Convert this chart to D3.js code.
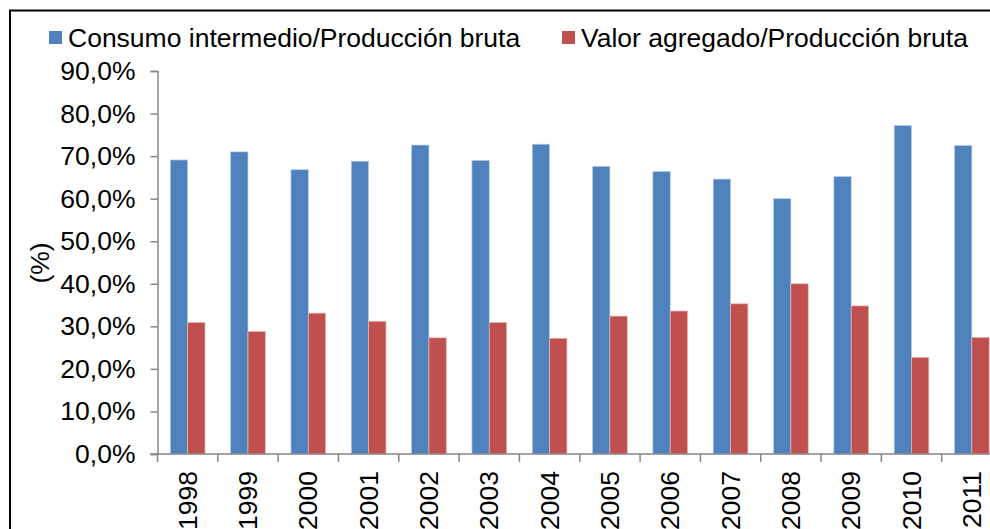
<!DOCTYPE html>
<html>
<head>
<meta charset="utf-8">
<script src="https://cdn.jsdelivr.net/npm/d3@7"></script>
<style>
  body { margin: 0; background: #fff; }
  svg { display: block; font-family: "Liberation Sans", Arial, sans-serif; }
</style>
</head>
<body>
<svg id="chart" width="990" height="529"></svg>
<script>
// données
var years = ["1998","1999","2000","2001","2002","2003","2004","2005","2006","2007","2008","2009","2010","2011"];
var consumo = [69.1, 71.0, 66.8, 68.8, 72.6, 69.0, 72.8, 67.6, 66.4, 64.6, 60.0, 65.2, 77.2, 72.5];
var valor = [30.9, 28.8, 33.1, 31.2, 27.3, 30.9, 27.2, 32.4, 33.6, 35.3, 40.0, 34.8, 22.7, 27.4];
var seriesNames = ["Consumo intermedio/Producción bruta", "Valor agregado/Producción bruta"];
var seriesColors = ["#4f81bd", "#c0504d"];
var yTicks = [0, 10, 20, 30, 40, 50, 60, 70, 80, 90];

var fontSize = 26.5;
var svg = d3.select("#chart");

// cadre extérieur (coupé à droite et en bas)
svg.append("rect")
   .attr("x", 10).attr("y", 10.5)
   .attr("width", 1000).attr("height", 600)
   .attr("fill", "none")
   .attr("stroke", "black")
   .attr("stroke-width", 2);

var plotLeft = 157.5, plotRight = 1002, plotTop = 71, plotBottom = 454;

var x = d3.scaleBand().domain(years).range([plotLeft, plotRight]);
var y = d3.scaleLinear().domain([0, 90]).range([plotBottom, plotTop]);

// sous-échelle pour les deux séries
var barW = x.step() * 0.2875;
var xs = d3.scaleBand().domain([0, 1]).range([0, barW * 2]);
var offset = (x.step() - barW * 2) / 2;

var rows = years.map((yr, i) => ({year: yr, vals: [consumo[i], valor[i]]}));

var groups = svg.selectAll(".year")
   .data(rows)
   .enter()
   .append("g")
   .attr("class", "year")
   .attr("transform", d => `translate(${x(d.year) + offset},0)`);

groups.selectAll("rect")
   .data(d => d.vals.map((v, k) => ({k: k, v: v})))
   .enter()
   .append("rect")
   .attr("x", d => xs(d.k))
   .attr("y", d => y(d.v))
   .attr("width", xs.bandwidth())
   .attr("height", d => plotBottom - y(d.v))
   .attr("fill", d => seriesColors[d.k])
   .attr("stroke", d => d.k === 0 ? "#b9cde5" : "#e6b9b8")
   .attr("stroke-width", 0.7);

// axe Y
var axisColor = "#868686";
var yAxis = svg.append("g")
   .attr("transform", `translate(${plotLeft},0)`)
   .call(d3.axisLeft(y).tickValues(yTicks).tickSize(7).tickPadding(15)
         .tickFormat(d => d3.format(".1f")(d).replace(".", ",") + "%"));
yAxis.select(".domain").attr("stroke", axisColor).attr("stroke-width", 1.5);
yAxis.selectAll(".tick line").attr("stroke", axisColor).attr("stroke-width", 1.5);
yAxis.selectAll(".tick text")
   .attr("font-size", fontSize)
   .attr("font-family", "Liberation Sans, Arial, sans-serif")
   .attr("fill", "black");

// axe X
svg.append("line")
   .attr("x1", plotLeft - 7).attr("x2", plotRight)
   .attr("y1", plotBottom).attr("y2", plotBottom)
   .attr("stroke", axisColor).attr("stroke-width", 1.5);

svg.selectAll(".xtick")
   .data(years)
   .enter()
   .append("line")
   .attr("class", "xtick")
   .attr("x1", d => x(d)).attr("x2", d => x(d))
   .attr("y1", plotBottom).attr("y2", plotBottom + 8)
   .attr("stroke", axisColor).attr("stroke-width", 1.5);

svg.selectAll(".xlabel")
   .data(years)
   .enter()
   .append("text")
   .attr("class", "xlabel")
   .attr("transform", d => `translate(${x(d) + x.bandwidth() / 2 + 9},${plotBottom + 17}) rotate(-90)`)
   .attr("text-anchor", "end")
   .attr("font-size", fontSize)
   .text(d => d);

// titre axe Y
svg.append("text")
   .attr("transform", "translate(49,263) rotate(-90)")
   .attr("text-anchor", "middle")
   .attr("font-size", fontSize)
   .text("(%)");

// légende
var legX = [49, 562];
var leg = svg.selectAll(".leg")
   .data(seriesNames)
   .enter()
   .append("g")
   .attr("class", "leg")
   .attr("transform", (d, i) => `translate(${legX[i]},0)`);
leg.append("rect")
   .attr("x", 0).attr("y", 31)
   .attr("width", 13).attr("height", 13)
   .attr("fill", (d, i) => seriesColors[i]);
leg.append("text")
   .attr("x", 19).attr("y", 47)
   .attr("font-size", fontSize)
   .text(d => d);
</script>
</body>
</html>
